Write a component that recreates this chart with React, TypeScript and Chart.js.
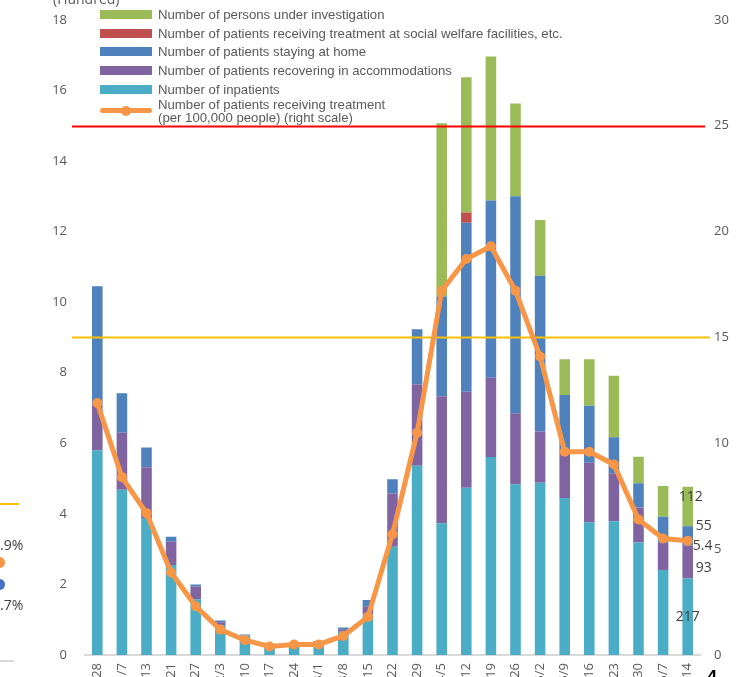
import React, { useEffect, useRef } from "react";
import { Chart, registerables } from "chart.js";
Chart.register(...registerables);

const categories = [
  "12/28", "1/7", "1/13", "1/21", "1/27", "2/3", "2/10", "2/17", "2/24", "3/1", "3/8", "3/15", "3/22",
  "3/29", "4/5", "4/12", "4/19", "4/26", "5/2", "5/9", "5/16", "5/23", "5/30", "6/7", "6/14",
];

// values in hundreds of persons (left axis)
const inpatients = [5.8, 4.68, 3.88, 2.55, 1.58, 0.85, 0.55, 0.2, 0.3, 0.36, 0.66, 1.15, 3.07, 5.36, 3.73, 4.74, 5.61, 4.84, 4.88, 4.45, 3.76, 3.79, 3.19, 2.41, 2.17];
const accommodations = [1.3, 1.62, 1.44, 0.66, 0.36, 0.08, 0.02, 0.01, 0.02, 0.02, 0.07, 0.22, 1.51, 2.31, 3.6, 2.72, 2.25, 2.01, 1.45, 1.3, 1.69, 1.36, 0.99, 0.77, 0.93];
const stayingHome = [3.35, 1.12, 0.56, 0.14, 0.06, 0.05, 0.01, 0, 0.01, 0.02, 0.05, 0.19, 0.4, 1.56, 2.83, 4.79, 5.02, 6.15, 4.42, 1.62, 1.61, 1.02, 0.69, 0.74, 0.55];
const welfareFacilities = [0, 0, 0, 0, 0, 0, 0, 0, 0, 0, 0, 0, 0, 0, 0, 0.29, 0, 0, 0, 0, 0, 0, 0, 0, 0];
const underInvestigation = [0, 0, 0, 0, 0, 0, 0, 0, 0, 0, 0, 0, 0, 0, 4.91, 3.83, 4.08, 2.63, 1.58, 1.01, 1.32, 1.74, 0.75, 0.87, 1.12];
// per 100,000 people (right axis)
const treatmentPer100k = [11.9, 8.4, 6.7, 3.9, 2.3, 1.2, 0.7, 0.4, 0.5, 0.5, 0.9, 1.8, 5.7, 10.5, 17.2, 18.7, 19.3, 17.2, 14.1, 9.6, 9.6, 9.0, 6.4, 5.5, 5.4];

const leftTicks = { min: 0, max: 18, step: 2 };
const rightTicks = { min: 0, max: 30, step: 5 };
const thresholdRed = 25;
const thresholdYellow = 15;

const names = {
  inpatients: "Number of inpatients",
  accommodations: "Number of patients recovering in accommodations",
  home: "Number of patients staying at home",
  welfare: "Number of patients receiving treatment at social welfare facilities, etc.",
  investigation: "Number of persons under investigation",
  line: ["Number of patients receiving treatment", "(per 100,000 people) (right scale)"],
};

const colors = {
  inpatients: "#4BACC6",
  accommodations: "#8064A2",
  home: "#4F81BD",
  welfare: "#C0504D",
  investigation: "#9BBB59",
  line: "#F79646",
};

const TICK_FONT = { family: "'Open Sans', sans-serif", size: 13 };
const GREY = "#595959";

export default function App() {
  const ref = useRef<HTMLCanvasElement>(null);

  useEffect(() => {
    document.body.style.margin = "0";
    const canvas = ref.current!;

    const refLines = {
      id: "refLines",
      beforeDatasetDraw(chart: any, args: any) {
        if (args.index !== 5) return;
        const { ctx, chartArea, scales } = chart;
        const draw = (v: number, color: string, extraRight: number) => {
          const y = Math.round(scales.y1.getPixelForValue(v)) + 0.5;
          ctx.save();
          ctx.strokeStyle = color;
          ctx.lineWidth = 2;
          ctx.beginPath();
          ctx.moveTo(chartArea.left - 13, y);
          ctx.lineTo(chartArea.right + extraRight, y);
          ctx.stroke();
          ctx.restore();
        };
        draw(thresholdYellow, "#FFC000", 10);
        draw(thresholdRed, "#FF0000", 5);
      },
    };

    const lastLabels = {
      id: "lastLabels",
      afterDatasetsDraw(chart: any) {
        const { ctx } = chart;
        const last = categories.length - 1;
        ctx.save();
        ctx.font = "14px 'Open Sans', sans-serif";
        ctx.fillStyle = "#404040";
        ctx.textBaseline = "middle";
        const put = (dsIndex: number, fmt: (v: number) => string, pos: (el: any) => [number, number, CanvasTextAlign]) => {
          const el = chart.getDatasetMeta(dsIndex).data[last];
          const v = chart.data.datasets[dsIndex].data[last];
          const [x, y, align] = pos(el);
          ctx.textAlign = align;
          ctx.fillText(fmt(v), x, y);
        };
        const hundreds = (v: number) => String(Math.round(v * 100));
        put(0, hundreds, (el) => [el.x, el.base - 38, "center"]);
        put(1, hundreds, (el) => [el.x + 8, (el.y + el.base) / 2 + 6, "left"]);
        put(2, hundreds, (el) => [el.x + 8, el.y, "left"]);
        put(4, hundreds, (el) => [el.x + 3, (el.y + el.base) / 2 - 9, "center"]);
        put(5, (v) => v.toFixed(1), (el) => [el.x + 5, el.y + 5, "left"]);
        ctx.restore();
      },
    };

    const barCommon = { yAxisID: "y", order: 1, barPercentage: 0.43, categoryPercentage: 1, borderWidth: 0 };

    const chart = new Chart(canvas, {
      type: "bar",
      data: {
        labels: categories,
        datasets: [
          { ...barCommon, label: names.inpatients, data: inpatients, backgroundColor: colors.inpatients },
          { ...barCommon, label: names.accommodations, data: accommodations, backgroundColor: colors.accommodations },
          { ...barCommon, label: names.home, data: stayingHome, backgroundColor: colors.home },
          { ...barCommon, label: names.welfare, data: welfareFacilities, backgroundColor: colors.welfare },
          { ...barCommon, label: names.investigation, data: underInvestigation, backgroundColor: colors.investigation },
          {
            type: "line" as any,
            label: names.line.join(" "),
            data: treatmentPer100k,
            yAxisID: "y1",
            order: 0,
            borderColor: colors.line,
            backgroundColor: colors.line,
            borderWidth: 5,
            pointRadius: 5,
            pointBorderWidth: 0,
            pointBackgroundColor: colors.line,
            tension: 0,
          } as any,
        ],
      },
      options: {
        responsive: false,
        animation: false,
        devicePixelRatio: 1,
        layout: { padding: { top: 14, left: 0, right: 0, bottom: 0 } },
        plugins: { legend: { display: false }, tooltip: { enabled: false } },
        scales: {
          x: {
            stacked: true,
            grid: { display: false },
            border: { display: true, color: "#D9D9D9", width: 2 },
            ticks: {
              autoSkip: false,
              minRotation: 90,
              maxRotation: 90,
              padding: 0,
              color: GREY,
              font: TICK_FONT,
            },
            afterFit: (s: any) => { s.height = 55; },
          },
          y: {
            stacked: true,
            position: "left",
            min: leftTicks.min,
            max: leftTicks.max,
            grid: { display: false },
            border: { display: false },
            ticks: { stepSize: leftTicks.step, padding: 10, color: GREY, font: TICK_FONT },
            afterFit: (s: any) => { s.width = 85; },
          },
          y1: {
            stacked: false,
            position: "right",
            min: rightTicks.min,
            max: rightTicks.max,
            grid: { display: false },
            border: { display: false },
            ticks: { stepSize: rightTicks.step, padding: 6, color: GREY, font: TICK_FONT },
            afterFit: (s: any) => { s.width = 39; },
          },
        },
      },
      plugins: [refLines, lastLabels],
    });
    return () => chart.destroy();
  }, []);

  const legendItems = [
    { label: [names.investigation], color: colors.investigation, line: false, cy: 14 },
    { label: [names.welfare], color: colors.welfare, line: false, cy: 33 },
    { label: [names.home], color: colors.home, line: false, cy: 51.5 },
    { label: [names.accommodations], color: colors.accommodations, line: false, cy: 70 },
    { label: [names.inpatients], color: colors.inpatients, line: false, cy: 89 },
    { label: names.line, color: colors.line, line: true, cy: 110.5 },
  ];

  const legendText: React.CSSProperties = {
    position: "absolute",
    left: 158,
    font: "13.2px 'Liberation Sans', Arial, sans-serif",
    color: GREY,
    lineHeight: "13px",
    whiteSpace: "nowrap",
  };

  return (
    <div style={{ position: "relative", width: 739, height: 677, overflow: "hidden", background: "#fff" }}>
      <canvas ref={ref} width={739} height={708} style={{ position: "absolute", left: 0, top: 2 }} />
      {/* axis unit caption, cut at the top edge */}
      <div style={{ position: "absolute", left: 53, top: -11, font: "14px 'Open Sans', sans-serif", color: GREY, whiteSpace: "nowrap" }}>
        (Hundred)
      </div>
      {legendItems.map((it, i) => (
        <React.Fragment key={i}>
          {it.line ? (
            <>
              <div style={{ position: "absolute", left: 100, top: it.cy - 2.5, width: 52, height: 5, background: it.color, borderRadius: 3 }} />
              <div style={{ position: "absolute", left: 121, top: it.cy - 5, width: 10, height: 10, background: it.color, borderRadius: 5 }} />
            </>
          ) : (
            <div style={{ position: "absolute", left: 100, top: it.cy - 4.5, width: 52, height: 9, background: it.color }} />
          )}
          <div style={{ ...legendText, top: it.cy - (it.label.length * 13) / 2 }}>
            {it.label.map((t, j) => (
              <div key={j}>{t}</div>
            ))}
          </div>
        </React.Fragment>
      ))}
      {/* fragments of the neighbouring chart on the left edge */}
      <div style={{ position: "absolute", left: 0, top: 503, width: 19, height: 2, background: "#FFC000" }} />
      <div style={{ position: "absolute", left: 0, top: 535, font: "14px 'Open Sans', sans-serif", color: "#404040" }}>.9%</div>
      <div style={{ position: "absolute", left: -6, top: 557, width: 11, height: 11, borderRadius: 6, background: "#F79646" }} />
      <div style={{ position: "absolute", left: -6, top: 579, width: 11, height: 11, borderRadius: 6, background: "#4472C4" }} />
      <div style={{ position: "absolute", left: 0, top: 595, font: "14px 'Open Sans', sans-serif", color: "#404040" }}>.7%</div>
      <div style={{ position: "absolute", left: 0, top: 660, width: 14, height: 2, background: "#D9D9D9" }} />
      <div style={{ position: "absolute", left: 707, top: 667, font: "bold 18px 'Liberation Sans', Arial, sans-serif", color: "#000" }}>4</div>
    </div>
  );
}
